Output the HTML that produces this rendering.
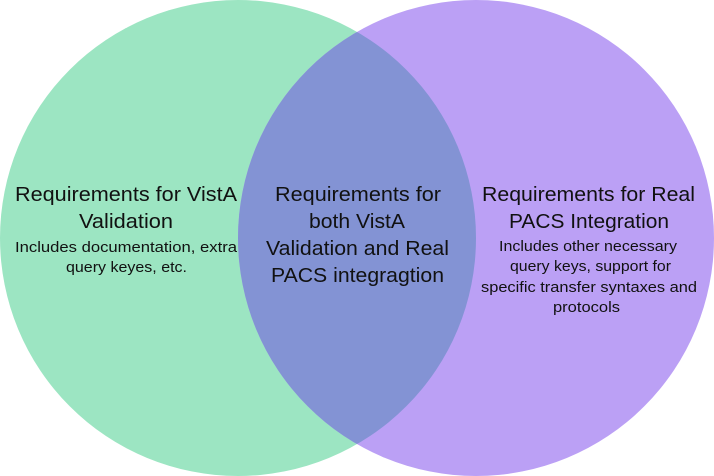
<!DOCTYPE html>
<html><head><style>html,body{margin:0;padding:0;background:#fff}svg{display:block}</style></head>
<body>
<svg width="714" height="476" viewBox="0 0 714 476" xmlns="http://www.w3.org/2000/svg">
<defs><clipPath id="c"><circle cx="238" cy="238" r="238"/></clipPath></defs>
<circle cx="238" cy="238" r="238" fill="#9ce5c2"/>
<circle cx="476" cy="238" r="238" fill="#bba0f5"/>
<circle cx="476" cy="238" r="238" fill="#8393d4" clip-path="url(#c)"/>
<g font-family="Liberation Sans, sans-serif" fill="#111">
<g font-size="20.5">
<text x="15" y="201" textLength="222" lengthAdjust="spacingAndGlyphs">Requirements for VistA</text>
<text x="79" y="228" textLength="94" lengthAdjust="spacingAndGlyphs">Validation</text>
<text x="275" y="201" textLength="166" lengthAdjust="spacingAndGlyphs">Requirements for</text>
<text x="309" y="228" textLength="96" lengthAdjust="spacingAndGlyphs">both VistA</text>
<text x="266" y="255" textLength="183" lengthAdjust="spacingAndGlyphs">Validation and Real</text>
<text x="271" y="282" textLength="173" lengthAdjust="spacingAndGlyphs">PACS integragtion</text>
<text x="482" y="201" textLength="213" lengthAdjust="spacingAndGlyphs">Requirements for Real</text>
<text x="509" y="228" textLength="160" lengthAdjust="spacingAndGlyphs">PACS Integration</text>
</g>
<g font-size="15">
<text x="15" y="252" textLength="222" lengthAdjust="spacingAndGlyphs">Includes documentation, extra</text>
<text x="66" y="272" textLength="121" lengthAdjust="spacingAndGlyphs">query keyes, etc.</text>
<text x="499" y="251" textLength="178" lengthAdjust="spacingAndGlyphs">Includes other necessary</text>
<text x="510" y="271" textLength="161" lengthAdjust="spacingAndGlyphs">query keys, support for</text>
<text x="481" y="292" textLength="216" lengthAdjust="spacingAndGlyphs">specific transfer syntaxes and</text>
<text x="553" y="312" textLength="67" lengthAdjust="spacingAndGlyphs">protocols</text>
</g>
</g>
</svg>
</body></html>
